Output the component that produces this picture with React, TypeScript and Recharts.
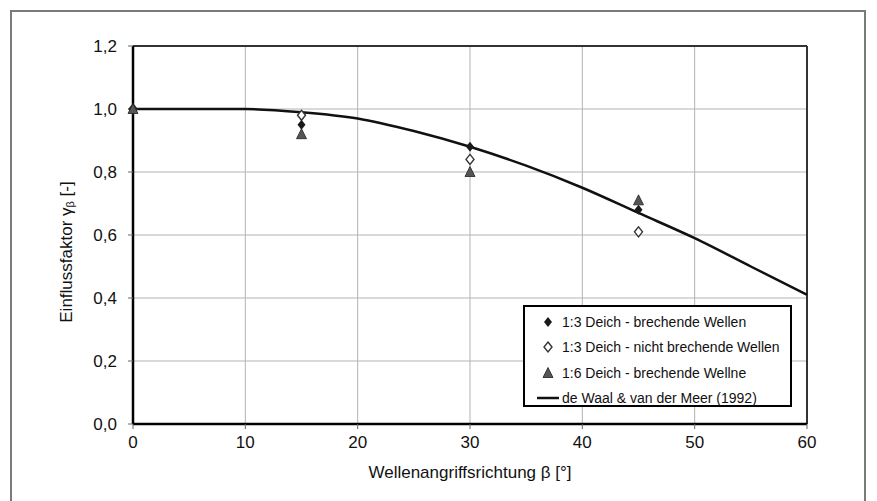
import React from 'react';
import {
  ComposedChart,
  Line,
  Scatter,
  XAxis,
  YAxis,
  CartesianGrid,
  ReferenceLine,
  Legend,
  Label,
} from 'recharts';

// measured points (wave attack angle in degrees)
const betaMeasured = [0, 15, 30, 45];
const gammaBreaking13 = [1.0, 0.95, 0.88, 0.68];
const gammaNonBreaking13 = [1.0, 0.98, 0.84, 0.61];
const gammaBreaking16 = [1.0, 0.92, 0.8, 0.71];

// de Waal & van der Meer curve
const betaCurve = [0, 5, 10, 15, 20, 25, 30, 35, 40, 45, 50, 55, 60];
const gammaCurve = [1.0, 1.0, 1.0, 0.99, 0.97, 0.93, 0.88, 0.82, 0.75, 0.67, 0.59, 0.5, 0.41];

const xTicks = [0, 10, 20, 30, 40, 50, 60];
const yTicks = [0, 0.2, 0.4, 0.6, 0.8, 1.0, 1.2];

const LABEL_BREAKING_13 = '1:3 Deich - brechende Wellen';
const LABEL_NON_BREAKING_13 = '1:3 Deich - nicht brechende Wellen';
const LABEL_BREAKING_16 = '1:6 Deich - brechende Wellne';
const LABEL_CURVE = 'de Waal & van der Meer (1992)';
const LEGEND_ORDER = [LABEL_BREAKING_13, LABEL_NON_BREAKING_13, LABEL_BREAKING_16, LABEL_CURVE];

const toPoints = (xs: number[], ys: number[]) => xs.map((x, i) => ({ x, y: ys[i] }));

const FONT = '"Liberation Sans", Arial, sans-serif';

const diamondPath = (cx: number, cy: number) =>
  `M${cx},${cy - 5}L${cx + 4},${cy}L${cx},${cy + 5}L${cx - 4},${cy}Z`;

const FilledDiamond = ({ cx, cy }: any) => <path d={diamondPath(cx, cy)} fill="#1a1a1a" />;

const OpenDiamond = ({ cx, cy }: any) => (
  <path d={diamondPath(cx, cy)} fill="#ffffff" stroke="#333333" strokeWidth={1.4} />
);

const Triangle = ({ cx, cy }: any) => (
  <path
    d={`M${cx},${cy - 5.5}L${cx + 5},${cy + 4.5}L${cx - 5},${cy + 4.5}Z`}
    fill="#555555"
    stroke="#222222"
    strokeWidth={0.8}
  />
);

const legendIcon = (name: string) => {
  if (name === LABEL_CURVE) return <line x1={12} y1={8} x2={34} y2={8} stroke="#111" strokeWidth={2.5} />;
  if (name === LABEL_BREAKING_13) return <FilledDiamond cx={23} cy={8} />;
  if (name === LABEL_NON_BREAKING_13) return <OpenDiamond cx={23} cy={8} />;
  return <Triangle cx={23} cy={8} />;
};

const renderLegend = ({ payload }: any) => {
  const items = [...(payload || [])].sort(
    (a: any, b: any) => LEGEND_ORDER.indexOf(a.value) - LEGEND_ORDER.indexOf(b.value)
  );
  return (
    <div style={{ paddingTop: 2 }}>
      {items.map((entry: any) => (
        <div key={entry.value} style={{ display: 'flex', alignItems: 'center', height: 25.5 }}>
          <svg width={37} height={16} style={{ flex: 'none' }}>
            {legendIcon(entry.value)}
          </svg>
          <span style={{ fontFamily: FONT, fontSize: 14, color: '#111', whiteSpace: 'nowrap' }}>
            {entry.value}
          </span>
        </div>
      ))}
    </div>
  );
};

const YTitle = ({ viewBox }: any) => {
  const x = viewBox.x + 66;
  const y = viewBox.y + viewBox.height / 2 + 17;
  return (
    <text
      x={x}
      y={y}
      transform={`rotate(-90 ${x} ${y})`}
      textAnchor="middle"
      dominantBaseline="central"
      fontFamily={FONT}
      fontSize={17}
      fill="#111"
    >
      Einflussfaktor γ
      <tspan fontSize={11} dy={4}>β</tspan>
      <tspan dy={-4}> [-]</tspan>
    </text>
  );
};

export default function App() {
  const tickStyle = { fontFamily: FONT, fontSize: 17, fill: '#111' };
  return (
    <div style={{ position: 'absolute', left: 0, top: 0, width: 877, height: 501, background: '#fff', overflow: 'hidden' }}>
      <div
        style={{
          position: 'absolute',
          left: 10,
          top: 10,
          width: 856,
          height: 520,
          border: '2px solid #7a7a7a',
          boxSizing: 'border-box',
        }}
      />
      <ComposedChart
        width={877}
        height={501}
        margin={{ top: 46, right: 70, bottom: 17, left: 0 }}
        style={{ position: 'absolute', left: 0, top: 0 }}
      >
        <CartesianGrid stroke="#b3b3b3" strokeWidth={1} />
        <XAxis
          type="number"
          dataKey="x"
          domain={[0, 60]}
          ticks={xTicks}
          stroke="#000"
          strokeWidth={2.5}
          tickLine={{ stroke: '#666', strokeWidth: 1 }}
          tickSize={5}
          tickMargin={7}
          tick={tickStyle}
          height={60}
        >
          <Label
            value="Wellenangriffsrichtung β [°]"
            position="insideBottom"
            offset={6}
            style={{ fontFamily: FONT, fontSize: 17, fill: '#111' }}
          />
        </XAxis>
        <YAxis
          type="number"
          dataKey="y"
          domain={[0, 1.2]}
          ticks={yTicks}
          width={133}
          stroke="#000"
          strokeWidth={2.5}
          tickLine={{ stroke: '#666', strokeWidth: 1 }}
          tickSize={5}
          tickMargin={11}
          tick={tickStyle}
          tickFormatter={(v: number) => v.toFixed(1).replace('.', ',')}
        >
          <Label content={<YTitle />} />
        </YAxis>
        <ReferenceLine y={1.2} stroke="#333" strokeWidth={2} />
        <ReferenceLine x={60} stroke="#333" strokeWidth={2} />
        <Line
          data={toPoints(betaCurve, gammaCurve)}
          dataKey="y"
          name={LABEL_CURVE}
          type="monotone"
          stroke="#111"
          strokeWidth={2.5}
          dot={false}
          activeDot={false}
          isAnimationActive={false}
        />
        <Scatter
          data={toPoints(betaMeasured, gammaNonBreaking13)}
          name={LABEL_NON_BREAKING_13}
          shape={<OpenDiamond />}
          isAnimationActive={false}
        />
        <Scatter
          data={toPoints(betaMeasured, gammaBreaking13)}
          name={LABEL_BREAKING_13}
          shape={<FilledDiamond />}
          isAnimationActive={false}
        />
        <Scatter
          data={toPoints(betaMeasured, gammaBreaking16)}
          name={LABEL_BREAKING_16}
          shape={<Triangle />}
          isAnimationActive={false}
        />
        <Legend
          layout="vertical"
          align="center"
          verticalAlign="middle"
          content={renderLegend}
          wrapperStyle={{
            left: 523,
            top: 305,
            width: 269,
            height: 102,
            border: '2px solid #000',
            background: '#fff',
            boxSizing: 'border-box',
          }}
        />
      </ComposedChart>
    </div>
  );
}
